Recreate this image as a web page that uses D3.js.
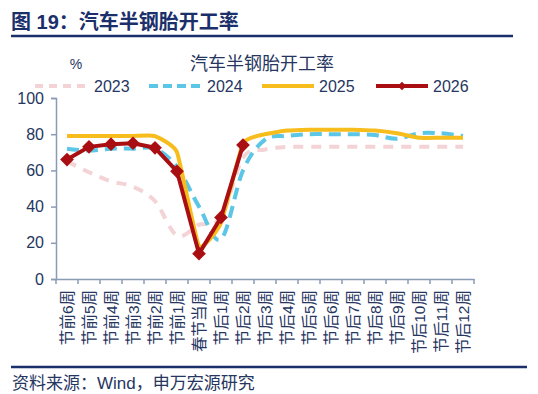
<!DOCTYPE html>
<html><head><meta charset="utf-8">
<script src="https://cdn.jsdelivr.net/npm/d3@7"></script>
<style>
html,body{margin:0;padding:0;background:#fff;}
svg{display:block;font-family:"Liberation Sans","Noto Sans CJK SC",sans-serif;}
</style></head>
<body><svg id="c" width="538" height="394"></svg>
<script>
const categories = ["节前6周","节前5周","节前4周","节前3周","节前2周","节前1周","春节当周","节后1周","节后2周","节后3周","节后4周","节后5周","节后6周","节后7周","节后8周","节后9周","节后10周","节后11周","节后12周"];
const s2023 = [65, 59, 54, 51, 43, 24, 30, 34, 67, 71.5, 73, 73, 73, 73, 73, 73, 73, 73, 73];
const s2024 = [72, 71, 72, 72, 72, 62, 40, 22, 60, 77, 79, 80, 80, 80, 79.5, 77.5, 80.5, 80.5, 79];
const s2025 = [79, 79, 79, 79, 79, 70, 18, 31, 75, 80, 82, 82.5, 82.5, 82.5, 82, 80.5, 78, 78, 78];
const s2026 = [66, 73, 74.5, 75, 72.5, 59.5, 14, 34, 74, null, null, null, null, null, null, null, null, null, null];
const yTicks = [0, 20, 40, 60, 80, 100];
const seriesNames = ["2023","2024","2025","2026"];

const svg = d3.select("#c");
const navy = "#1B2F6B";
const textCol = "#26365F";

// Header
svg.append("text").attr("x", 11).attr("y", 29).attr("font-size", 20).attr("font-weight", "bold")
  .attr("fill", navy).text("图 19：汽车半钢胎开工率");
svg.append("line").attr("x1", 11).attr("x2", 513).attr("y1", 36).attr("y2", 36)
  .attr("stroke", navy).attr("stroke-width", 2.5);

// Chart title
svg.append("text").attr("x", 262).attr("y", 70).attr("text-anchor", "middle").attr("font-size", 18)
  .attr("fill", textCol).text("汽车半钢胎开工率");
svg.append("text").attr("x", 76).attr("y", 69).attr("text-anchor", "middle").attr("font-size", 14)
  .attr("fill", textCol).text("%");

const x = d3.scaleBand().domain(categories).range([56, 474]).padding(0);
const y = d3.scaleLinear().domain([0, 100]).range([279, 98]);
const axisCol = "#8A9BB5";

// Y axis
const gy = svg.append("g").attr("transform", "translate(56,0)")
  .call(d3.axisLeft(y).tickValues(yTicks).tickSize(5).tickPadding(7));
gy.selectAll("path,line").attr("stroke", axisCol).attr("stroke-width", 1.5);
gy.selectAll("text").attr("font-size", 16).attr("fill", textCol).attr("font-family", "Liberation Sans, sans-serif");

// X axis
const gx = svg.append("g").attr("transform", "translate(0,279)")
  .call(d3.axisBottom(x).tickSize(0).tickFormat(""));
gx.select("path").attr("stroke", axisCol).attr("stroke-width", 1.5);
const bounds = d3.range(categories.length + 1).map(i => 56 + x.step() * i);
svg.append("g").selectAll("line").data(bounds).join("line")
  .attr("x1", d => d).attr("x2", d => d).attr("y1", 279).attr("y2", 284)
  .attr("stroke", axisCol).attr("stroke-width", 1.5);
svg.append("g").selectAll("text").data(categories).join("text")
  .attr("transform", d => `translate(${x(d) + x.bandwidth() / 2 + 5.5},290) rotate(-90)`)
  .attr("text-anchor", "end").attr("font-size", 15.5).attr("fill", textCol)
  .text(d => d);

const cx = d => x(d) + x.bandwidth() / 2;

function drawLine(data, color, width, dash, curve) {
  const line = d3.line().defined(d => d[1] != null)
    .x(d => cx(d[0])).y(d => y(d[1])).curve(curve);
  svg.append("path").datum(categories.map((c, i) => [c, data[i]]))
    .attr("d", line).attr("fill", "none").attr("stroke", color)
    .attr("stroke-width", width).attr("stroke-dasharray", dash)
    .attr("stroke-linejoin", "round");
}
const colors = {"2023": "#F3D3D6", "2024": "#5CC6E6", "2025": "#F7BD1C", "2026": "#A90F12"};
drawLine(s2023, colors["2023"], 4, "10,8", d3.curveCardinal.tension(0));
drawLine(s2024, colors["2024"], 4, "12,7", d3.curveCardinal.tension(0));
drawLine(s2025, colors["2025"], 4, null, d3.curveCardinal.tension(0.6));
drawLine(s2026, colors["2026"], 4, null, d3.curveLinear);

const diamond = d3.symbol().type(d3.symbolDiamond2).size(120);
svg.append("g").selectAll("path").data(categories.map((c, i) => [c, s2026[i]]).filter(d => d[1] != null))
  .join("path").attr("d", diamond)
  .attr("transform", d => `translate(${cx(d[0])},${y(d[1])})`)
  .attr("fill", colors["2026"]);

// Legend
const legendItems = [
  {name: "2023", x1: 35, x2: 89, dash: "8,6"},
  {name: "2024", x1: 149, x2: 202, dash: "9,5"},
  {name: "2025", x1: 262, x2: 314, dash: null},
  {name: "2026", x1: 376, x2: 428, dash: null}
];
const lg = svg.append("g");
legendItems.forEach(it => {
  lg.append("line").attr("x1", it.x1).attr("x2", it.x2).attr("y1", 86).attr("y2", 86)
    .attr("stroke", colors[it.name]).attr("stroke-width", 4).attr("stroke-dasharray", it.dash);
  if (it.name === "2026") {
    lg.append("path").attr("d", d3.symbol().type(d3.symbolDiamond2).size(45))
      .attr("transform", `translate(${(it.x1 + it.x2) / 2},86)`).attr("fill", colors["2026"]);
  }
  lg.append("text").attr("x", it.x2 + 5).attr("y", 91.5).attr("font-size", 16)
    .attr("fill", textCol).text(it.name);
});

// Footer
svg.append("line").attr("x1", 11).attr("x2", 527).attr("y1", 367).attr("y2", 367)
  .attr("stroke", navy).attr("stroke-width", 2.5);
svg.append("text").attr("x", 12).attr("y", 389).attr("font-size", 17).attr("fill", textCol)
  .text("资料来源：Wind，申万宏源研究");
</script></body></html>
